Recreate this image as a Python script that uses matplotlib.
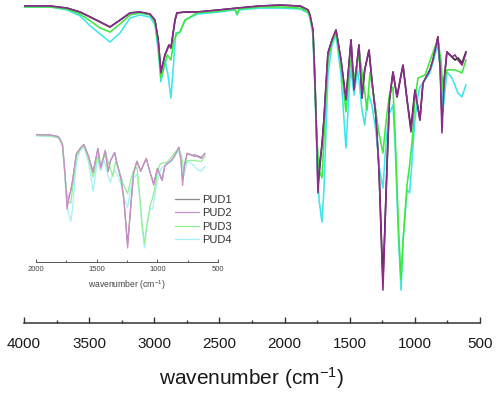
import matplotlib
matplotlib.use("Agg")
import matplotlib.pyplot as plt

plt.rcParams['font.family'] = ['Liberation Sans', 'DejaVu Sans']
plt.rcParams['mathtext.default'] = 'regular'

# --- spectra (wavenumber in cm-1, transmittance in %) ---
wn_pud1 = [4000, 3800, 3670, 3570, 3490, 3417, 3340, 3263, 3186, 3110,
           3033, 2995, 2970, 2949, 2918, 2887, 2872, 2841, 2826, 2760,
           2672, 2500, 2365, 2189, 2035, 1882, 1820, 1805, 1782, 1767,
           1751, 1744, 1728, 1713, 1698, 1682, 1667, 1636, 1605, 1567,
           1529, 1490, 1467, 1429, 1406, 1385, 1352, 1330, 1300, 1275,
           1255, 1245, 1235, 1215, 1195, 1168, 1137, 1106, 1091, 1060,
           1030, 999, 961, 938, 884, 861, 823, 805, 792, 775,
           754, 715, 692, 669, 638, 608]
t_pud1 = [100.0, 100.0, 99.3, 98.0, 96.3, 94.7, 93.0, 95.3, 97.7, 98.0,
          97.3, 95.3, 88.7, 78.0, 83.7, 87.0, 86.0, 95.3, 97.7, 98.0,
          98.0, 98.7, 99.3, 100.0, 100.3, 100.0, 98.7, 97.0, 92.0, 75.3,
          52.0, 40.3, 47.0, 53.7, 62.0, 73.7, 84.3, 88.7, 92.0, 82.0,
          68.7, 88.7, 72.0, 87.0, 69.3, 78.7, 85.3, 75.3, 63.7, 45.3,
          20.3, 8.7, 20.3, 45.3, 68.7, 78.0, 69.7, 77.0, 80.3, 68.7,
          59.3, 72.0, 62.0, 74.3, 78.7, 82.0, 89.7, 78.7, 62.0, 75.3,
          84.7, 83.0, 82.0, 82.7, 81.0, 84.7]

wn_pud2 = list(wn_pud1)
t_pud2 = [100.0, 100.0, 99.3, 98.0, 96.3, 94.7, 93.0, 95.3, 97.7, 98.0,
          97.3, 95.3, 88.7, 77.7, 83.7, 87.0, 86.0, 95.3, 97.7, 98.0,
          98.0, 98.7, 99.3, 100.0, 100.3, 100.0, 98.7, 97.0, 92.0, 75.3,
          52.0, 37.7, 48.7, 53.7, 62.0, 73.7, 84.3, 88.7, 92.0, 82.0,
          68.7, 88.7, 72.0, 87.0, 69.3, 78.7, 85.3, 75.3, 63.7, 45.3,
          18.7, 5.3, 18.7, 45.3, 68.7, 78.0, 69.7, 77.0, 80.3, 68.7,
          58.0, 72.0, 62.0, 74.3, 78.7, 82.0, 89.7, 78.7, 57.7, 75.3,
          84.7, 83.0, 83.7, 82.0, 80.3, 84.3]

wn_pud3 = [4000, 3800, 3670, 3570, 3490, 3417, 3340, 3263, 3186, 3110,
           3033, 2995, 2970, 2949, 2930, 2900, 2872, 2850, 2826, 2803,
           2764, 2672, 2500, 2380, 2365, 2350, 2189, 2035, 1882, 1820,
           1805, 1782, 1767, 1751, 1735, 1713, 1698, 1682, 1667, 1636,
           1605, 1567, 1529, 1495, 1470, 1425, 1367, 1345, 1314, 1280,
           1245, 1220, 1195, 1168, 1150, 1125, 1106, 1090, 1060, 1040,
           1020, 1000, 976, 922, 846, 823, 800, 784, 754, 692,
           638, 608]
t_pud3 = [99.7, 99.7, 99.0, 97.3, 95.0, 92.7, 91.3, 94.0, 97.0, 97.7,
          97.0, 94.7, 87.0, 76.0, 78.7, 83.7, 82.0, 88.7, 90.7, 91.3,
          95.3, 97.7, 98.3, 99.0, 97.3, 99.0, 99.7, 99.7, 99.3, 98.0,
          96.3, 91.3, 73.7, 55.3, 45.3, 42.7, 55.3, 70.3, 82.0, 88.0,
          91.3, 80.3, 64.7, 82.0, 75.3, 84.3, 65.3, 77.7, 69.7, 58.7,
          51.0, 62.0, 70.3, 73.0, 55.3, 25.3, 8.7, 22.0, 40.3, 47.0,
          55.3, 68.7, 76.0, 77.0, 86.3, 88.7, 82.0, 72.0, 78.7, 78.7,
          77.7, 82.0]

wn_pud4 = [4000, 3800, 3670, 3570, 3490, 3417, 3340, 3263, 3186, 3110,
           3033, 2995, 2970, 2949, 2918, 2895, 2872, 2850, 2835, 2803,
           2764, 2672, 2500, 2380, 2365, 2350, 2189, 2035, 1882, 1820,
           1805, 1782, 1767, 1751, 1735, 1713, 1698, 1682, 1667, 1636,
           1605, 1567, 1529, 1500, 1490, 1467, 1440, 1429, 1406, 1385,
           1367, 1352, 1330, 1300, 1270, 1245, 1220, 1200, 1168, 1150,
           1125, 1106, 1091, 1060, 1040, 1025, 1000, 976, 961, 884,
           846, 823, 800, 784, 754, 715, 669, 638, 608]
t_pud4 = [99.7, 99.7, 98.7, 96.7, 93.3, 90.7, 88.0, 91.0, 96.0, 97.0,
          96.3, 93.7, 85.3, 74.7, 82.0, 77.0, 69.3, 82.0, 91.0, 91.3,
          95.3, 97.3, 98.0, 98.7, 97.0, 98.7, 99.3, 99.3, 99.0, 97.7,
          96.0, 90.3, 72.0, 48.7, 35.3, 28.0, 38.7, 58.7, 77.0, 87.0,
          90.3, 77.0, 52.7, 75.3, 78.7, 70.3, 78.7, 75.3, 65.3, 60.3,
          68.7, 70.3, 67.0, 58.7, 45.3, 39.3, 55.3, 63.7, 67.0, 52.0,
          22.0, 5.3, 22.0, 38.7, 37.7, 46.3, 62.0, 70.3, 73.0, 77.7,
          83.7, 87.0, 77.0, 65.3, 78.0, 76.0, 71.0, 69.7, 73.7]

labels = ["PUD1", "PUD2", "PUD3", "PUD4"]
main_colors = ["#222222", "#8a2b8a", "#3ee83e", "#3ee6ea"]
inset_colors = ["#8c8c8c", "#c98fc9", "#92ef92", "#a3f2f4"]
series = [(wn_pud1, t_pud1), (wn_pud2, t_pud2), (wn_pud3, t_pud3), (wn_pud4, t_pud4)]
draw_order = [0, 3, 2, 1]

W, H = 498, 394
fig = plt.figure(figsize=(W / 100, H / 100), dpi=100)

# main spectrum
ax = fig.add_axes([24 / W, 1 - 323 / H, 456 / W, 323 / H])
ax.patch.set_alpha(0)
for i in draw_order:
    wn, t = series[i]
    ax.plot(wn, t, color=main_colors[i], lw=1.15, solid_joinstyle='round')
ax.set_xlim(4000, 500)
ax.set_ylim(-5.67, 102)
for s in ['left', 'right', 'top']:
    ax.spines[s].set_visible(False)
ax.spines['bottom'].set_color('#333333')
ax.spines['bottom'].set_linewidth(1.1)
ax.set_yticks([])
ax.set_xticks([4000, 3500, 3000, 2500, 2000, 1500, 1000, 500])
ax.set_xticks(range(3750, 500, -500), minor=True)
ax.tick_params(axis='x', which='major', direction='in', length=4, width=1.0,
               color='#333333', labelsize=11, labelcolor='#1a1a1a', pad=10)
ax.tick_params(axis='x', which='minor', direction='in', length=2.5, width=1.0,
               color='#333333')
fig.text(252 / W, 1 - 378 / H, "wavenumber (cm$^{-1}$)", ha='center', va='center',
         fontsize=15, color='#1a1a1a')

# inset: zoom on the fingerprint region
ins = fig.add_axes([36 / W, 1 - 262 / H, 182 / W, 132 / H])
ins.patch.set_alpha(0)
for i in draw_order:
    wn, t = series[i]
    ins.plot(wn, t, color=inset_colors[i], lw=0.9, label=labels[i])
ins.set_xlim(2000, 500)
ins.set_ylim(-6.4, 104.2)
for s in ['left', 'right', 'top']:
    ins.spines[s].set_visible(False)
ins.spines['bottom'].set_color('#555555')
ins.spines['bottom'].set_linewidth(0.7)
ins.set_yticks([])
ins.set_xticks([2000, 1500, 1000, 500])
ins.set_xticks([1750, 1250, 750], minor=True)
ins.tick_params(axis='x', which='major', direction='in', length=2.5, width=0.7,
                color='#555555', labelsize=5.5, labelcolor='#444444', pad=3)
ins.tick_params(axis='x', which='minor', direction='in', length=1.5, width=0.7,
                color='#555555')
fig.text(127 / W, 1 - 285 / H, "wavenumber (cm$^{-1}$)", ha='center', va='center',
         fontsize=6.2, color='#444444')

handles, labs = ins.get_legend_handles_labels()
order = [labs.index(l) for l in labels]
leg = fig.legend([handles[k] for k in order], labels, loc='upper left',
                 bbox_to_anchor=(175 / W, 1 - 195 / H), frameon=False,
                 fontsize=8, handlelength=2.2, handletextpad=0.2,
                 labelspacing=0.3, borderpad=0, borderaxespad=0)
for txt in leg.get_texts():
    txt.set_color('#333333')

fig.savefig("out.png", dpi=100)
